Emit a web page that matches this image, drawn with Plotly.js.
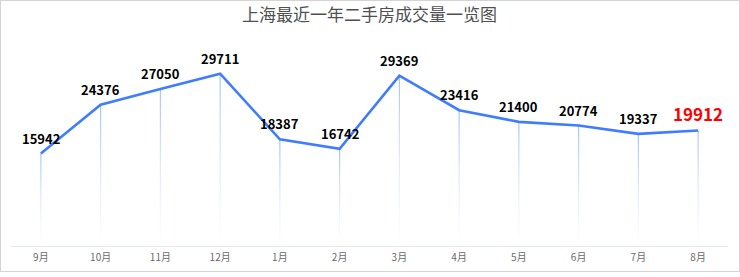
<!DOCTYPE html>
<html>
<head>
<meta charset="utf-8">
<script src="https://cdn.plot.ly/plotly-3.0.1.min.js"></script>
<style>
html,body{margin:0;padding:0;background:#fff;}
#wrap{position:relative;width:740px;height:277px;}
#chart{position:absolute;left:0;top:0;width:740px;height:277px;}
#frame{position:absolute;left:0;top:0;width:738px;height:270px;border:1px solid #d4d4d4;pointer-events:none;}
</style>
</head>
<body>
<div id="wrap"><div id="chart"></div><div id="frame"></div></div>
<script>
const months = ['9月','10月','11月','12月','1月','2月','3月','4月','5月','6月','7月','8月'];
const volumes = [15942, 24376, 27050, 29711, 18387, 16742, 29369, 23416, 21400, 20774, 19337, 19912];
const chartTitle = '上海最近一年二手房成交量一览图';

const idx = months.map((m, i) => i);
const FONT = '"Noto Sans CJK SC", "Microsoft YaHei", sans-serif';
const halfW = 0.55 * 12 / 717;

const traces = [];
// gradient drop lines from each point to the axis
idx.forEach(i => {
  traces.push({
    type: 'scatter', mode: 'lines',
    x: [i - halfW, i + halfW, i + halfW, i - halfW, i - halfW],
    y: [volumes[i], volumes[i], 0, 0, volumes[i]],
    fill: 'toself',
    line: {width: 0, color: 'rgba(0,0,0,0)'},
    fillgradient: {
      type: 'vertical',
      colorscale: [[0, 'rgba(200,218,255,0)'], [0.5, 'rgba(185,207,255,0.5)'], [1, 'rgba(150,185,255,0.95)']]
    },
    hoverinfo: 'skip', showlegend: false
  });
});
// main line
traces.push({
  type: 'scatter', mode: 'lines',
  x: idx, y: volumes,
  line: {color: '#3f7cff', width: 2.6},
  hoverinfo: 'x+y', showlegend: false
});

const last = volumes.length - 1;
const annotations = idx.map(i => ({
  x: i, y: volumes[i], xref: 'x', yref: 'y',
  text: '<b>' + volumes[i] + '</b>',
  showarrow: false, xanchor: 'center', yanchor: 'middle',
  yshift: i === last ? 17 : 15.5,
  font: {family: FONT, size: i === last ? 17 : 13, color: i === last ? '#ff0000' : '#000000'}
}));

const layout = {
  width: 740, height: 277,
  margin: {l: 11, r: 12, t: 72, b: 31, pad: 0},
  paper_bgcolor: '#ffffff', plot_bgcolor: '#ffffff',
  title: {text: chartTitle, x: 0.5, xanchor: 'center', xref: 'paper', y: 1, yref: 'container', yanchor: 'top', pad: {t: 9},
          font: {family: FONT, size: 17, color: '#505050'}},
  xaxis: {
    range: [-0.5, 11.5], tickmode: 'array', tickvals: idx, ticktext: months,
    showgrid: false, zeroline: false, showline: true, linecolor: '#e3e7ef', linewidth: 1.2,
    ticks: '', ticklabelstandoff: 2,
    tickfont: {family: FONT, size: 10, color: '#6a6a6a'}, fixedrange: true
  },
  yaxis: {range: [0, 30000], visible: false, showgrid: false, zeroline: false, fixedrange: true},
  annotations: annotations,
  showlegend: false
};

Plotly.newPlot('chart', traces, layout, {displayModeBar: false, staticPlot: true});
</script>
</body>
</html>
